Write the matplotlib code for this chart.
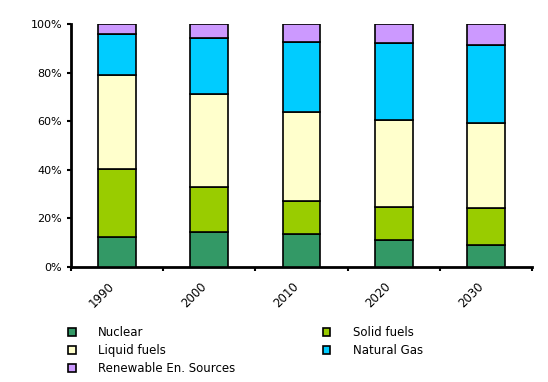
import matplotlib.pyplot as plt
import numpy as np

years = ['1990', '2000', '2010', '2020', '2030']
nuclear = [12.5, 14.4, 13.6, 11.2, 9.1]
solid = [27.8, 18.5, 13.7, 13.5, 15.3]
liquid = [38.7, 38.3, 36.5, 35.8, 34.9]
gas = [16.9, 23.0, 28.9, 31.8, 32.2]
renewable = [4.1, 5.8, 7.3, 7.7, 8.5]

series = [
    ('Nuclear', nuclear, '#339966'),
    ('Solid fuels', solid, '#99CC00'),
    ('Liquid fuels', liquid, '#FFFFCC'),
    ('Natural Gas', gas, '#00CCFF'),
    ('Renewable En. Sources', renewable, '#CC99FF'),
]

fig = plt.figure(figsize=(5.48, 3.82), dpi=100)
ax = fig.add_axes([71 / 548, 1 - 267 / 382, 461 / 548, 243 / 382])

x = np.arange(len(years)) + 0.5
bottom = np.zeros(len(years))
bars = {}
for name, vals, col in series:
    bars[name] = ax.bar(x, vals, 0.41, bottom=bottom, color=col,
                        edgecolor='black', linewidth=1.2, label=name, zorder=3)
    bottom += np.array(vals)

ax.set_xlim(0, len(years))
ax.set_ylim(0, 100)
ax.set_yticks(range(0, 101, 20))
ax.set_yticklabels(['%d%%' % v for v in range(0, 101, 20)], fontsize=8)
ax.set_xticks(range(len(years) + 1))
ax.set_xticklabels([])
ax.set_xticks(x, minor=True)
ax.set_xticklabels(years, minor=True, rotation=45, ha='right', fontsize=8.5)
ax.tick_params(axis='x', which='minor', length=0, pad=9)
ax.tick_params(axis='both', which='major', length=3, width=1.5, direction='out')

for s in ['top', 'right']:
    ax.spines[s].set_visible(False)
for s in ['left', 'bottom']:
    ax.spines[s].set_linewidth(2)

order = ['Nuclear', 'Liquid fuels', 'Renewable En. Sources', 'Solid fuels', 'Natural Gas']
fig.legend([bars[n] for n in order], order, ncol=2, loc='upper left',
           bbox_to_anchor=(68 / 548, 1 - 326 / 382), frameon=False, fontsize=8.5,
           handlelength=0.65, handleheight=0.65, handletextpad=1.9,
           columnspacing=7.4, labelspacing=0.42, borderaxespad=0, borderpad=0)

plt.savefig('out.png', dpi=100)
